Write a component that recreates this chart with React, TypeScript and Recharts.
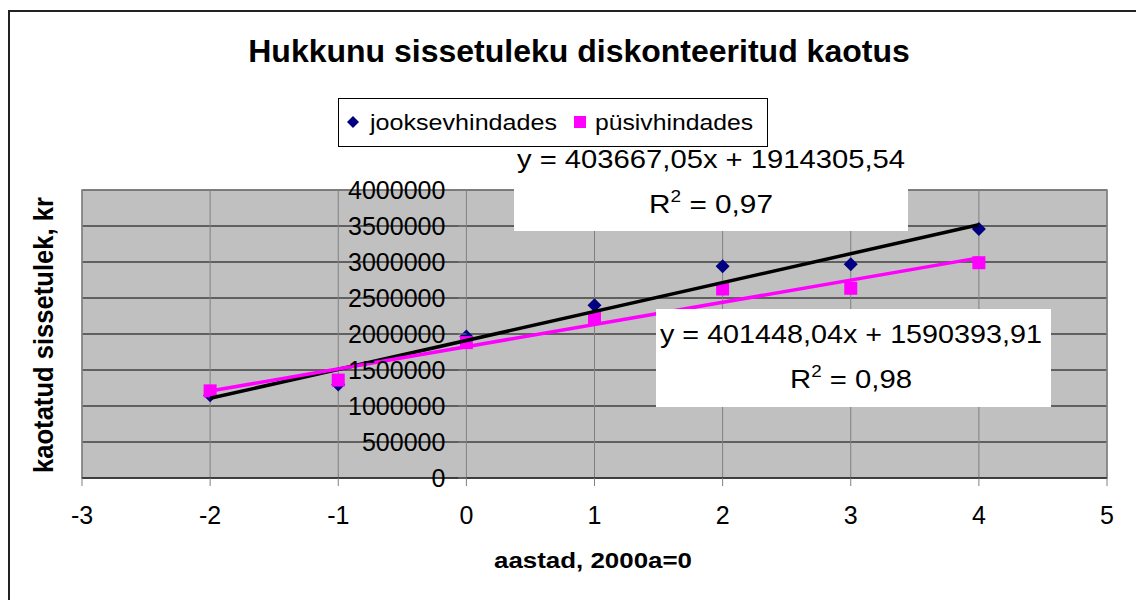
import React from 'react';
import { ScatterChart, Scatter, XAxis, YAxis, CartesianGrid, Legend, ReferenceArea } from 'recharts';

const FONT = '"Liberation Sans", Arial, sans-serif';

// aastad, 2000a = 0
const years = [-2, -1, 0, 1, 2, 3, 4];
// jooksevhindades (navy diamonds)
const jooksev = [1150000, 1300000, 1965000, 2400000, 2940000, 2970000, 3460000];
// püsivhindades (magenta squares)
const pusiv = [1210000, 1360000, 1880000, 2225000, 2625000, 2635000, 2990000];

const xTicks = [-3, -2, -1, 0, 1, 2, 3, 4, 5];
const yTicks = [0, 500000, 1000000, 1500000, 2000000, 2500000, 3000000, 3500000, 4000000];

const eqJooksev = ['y = 403667,05x + 1914305,54', '0,97'];
const eqPusiv = ['y = 401448,04x + 1590393,91', '0,98'];

const W = 1136;
const H = 592;
const Y_W = 1;
const margin = { top: 182, right: 37, left: 74 - Y_W, bottom: 72 };
const X_MIN = -3;
const X_MAX = 5;
const PLOT_LEFT = margin.left + Y_W;
const PLOT_W = W - PLOT_LEFT - margin.right;
const AXIS_X = PLOT_LEFT + ((0 - X_MIN) / (X_MAX - X_MIN)) * PLOT_W;

const toPoints = (ys: number[]) => years.map((x, i) => ({ x, y: ys[i] }));

// linear trendline (least squares), drawn over the data range like Excel does
const trend = (ys: number[]) => {
  const n = years.length;
  const mx = years.reduce((a, b) => a + b, 0) / n;
  const my = ys.reduce((a, b) => a + b, 0) / n;
  let sxy = 0;
  let sxx = 0;
  years.forEach((x, i) => {
    sxy += (x - mx) * (ys[i] - my);
    sxx += (x - mx) * (x - mx);
  });
  const k = sxy / sxx;
  const b = my - k * mx;
  const x0 = years[0];
  const x1 = years[n - 1];
  return [{ x: x0, y: k * x0 + b }, { x: x1, y: k * x1 + b }];
};

const Diamond = (p: any) => (
  <path
    d={`M${p.cx},${p.cy - 7}L${p.cx + 7},${p.cy}L${p.cx},${p.cy + 7}L${p.cx - 7},${p.cy}Z`}
    fill="#000080"
  />
);
const Square = (p: any) => <rect x={p.cx - 6.5} y={p.cy - 6.5} width={13} height={13} fill="#FF00FF" />;
const NoDot = () => <g />;

const YTick = (props: any) => {
  const { y, payload } = props;
  return (
    <g>
      <line x1={AXIS_X - 8} x2={AXIS_X} y1={y} y2={y} stroke="#808080" />
      <text x={AXIS_X - 21} y={y} dy="0.36em" textAnchor="end" fontSize={25} fontFamily={FONT} fill="#000">
        {payload.value}
      </text>
    </g>
  );
};

const LegendBox = () => (
  <div style={{ width: 430, height: 49, border: '1px solid #000', boxSizing: 'border-box', background: '#fff' }}>
    <svg width={428} height={47} style={{ display: 'block' }}>
      <path d="M14,17L20,23L14,29L8,23Z" fill="#000080" />
      <text x={31} y={31} fontSize={22} fontFamily={FONT} textLength={187} lengthAdjust="spacingAndGlyphs">
        jooksevhindades
      </text>
      <rect x={235} y={17} width={12} height={12} fill="#FF00FF" />
      <text x={256} y={31} fontSize={22} fontFamily={FONT} textLength={158} lengthAdjust="spacingAndGlyphs">
        püsivhindades
      </text>
    </svg>
  </div>
);

const EqBox = ({ x, y, w, h, eq, cx, b1, b2, l1, l2 }: any) => (
  <g>
    <rect x={x} y={y} width={w} height={h} fill="#fff" />
    <text x={cx} y={b1} textAnchor="middle" fontSize={25} fontFamily={FONT} textLength={l1} lengthAdjust="spacingAndGlyphs">
      {eq[0]}
    </text>
    <text x={cx} y={b2} textAnchor="middle" fontSize={25} fontFamily={FONT} textLength={l2} lengthAdjust="spacingAndGlyphs">
      <tspan>R</tspan>
      <tspan dy={-11} fontSize={16}>2</tspan>
      <tspan dy={11}>{' = ' + eq[1]}</tspan>
    </text>
  </g>
);

export default function App() {
  return (
    <div style={{ position: 'relative', width: W, height: H, fontFamily: FONT, overflow: 'hidden' }}>
      <div
        style={{
          position: 'absolute',
          left: 0,
          top: 2,
          width: W + 10,
          height: H + 10,
          borderLeft: '2px solid #222',
          borderTop: '2px solid #222',
          boxSizing: 'border-box',
        }}
      />
      <ScatterChart width={W} height={H} margin={margin}>
        <CartesianGrid vertical={false} stroke="#000" fill="#C0C0C0" />
        <CartesianGrid horizontal={false} stroke="#808080" />
        <ReferenceArea x1={-3} x2={5} y1={0} y2={4000000} fill="none" stroke="#808080" strokeWidth={1.5} />
        <XAxis
          type="number"
          dataKey="x"
          domain={[X_MIN, X_MAX]}
          ticks={xTicks}
          interval={0}
          height={50}
          axisLine={{ stroke: '#000' }}
          tickLine={{ stroke: '#808080' }}
          tickSize={8}
          tickMargin={20}
          tick={{ fontSize: 25, fill: '#000', fontFamily: FONT }}
        />
        <YAxis
          type="number"
          dataKey="y"
          domain={[0, 4000000]}
          ticks={yTicks}
          interval={0}
          width={Y_W}
          axisLine={false}
          tickLine={false}
          tick={YTick}
        />
        <Legend
          layout="horizontal"
          align="center"
          verticalAlign="middle"
          wrapperStyle={{ left: 330, top: 90, width: 430, height: 49 }}
          content={() => <LegendBox />}
        />
        <Scatter name="jooksevhindades" data={toPoints(jooksev)} shape={Diamond} isAnimationActive={false} />
        <Scatter name="püsivhindades" data={toPoints(pusiv)} shape={Square} isAnimationActive={false} />
        <Scatter
          data={trend(jooksev)}
          line={{ stroke: '#000', strokeWidth: 3.5 }}
          shape={NoDot}
          legendType="none"
          isAnimationActive={false}
        />
        <Scatter
          data={trend(pusiv)}
          line={{ stroke: '#FF00FF', strokeWidth: 3.5 }}
          shape={NoDot}
          legendType="none"
          isAnimationActive={false}
        />
      </ScatterChart>
      <svg width={W} height={H} style={{ position: 'absolute', left: 0, top: 0, pointerEvents: 'none' }}>
        <text x={571} y={54} textAnchor="middle" fontSize={32} fontWeight="bold" fontFamily={FONT}>
          Hukkunu sissetuleku diskonteeritud kaotus
        </text>
        <text
          transform="translate(45,327) rotate(-90)"
          textAnchor="middle"
          fontSize={27}
          fontWeight="bold"
          fontFamily={FONT}
          textLength={276}
          lengthAdjust="spacingAndGlyphs"
        >
          kaotatud sissetulek, kr
        </text>
        <text
          x={585}
          y={560}
          textAnchor="middle"
          fontSize={22}
          fontWeight="bold"
          fontFamily={FONT}
          textLength={198}
          lengthAdjust="spacingAndGlyphs"
        >
          aastad, 2000a=0
        </text>
        <EqBox x={506} y={140} w={394} h={83} eq={eqJooksev} cx={703} b1={160} b2={205} l1={388} l2={124} />
        <EqBox x={648} y={301} w={395} h={98} eq={eqPusiv} cx={843} b1={335} b2={380} l1={382} l2={122} />
      </svg>
    </div>
  );
}
